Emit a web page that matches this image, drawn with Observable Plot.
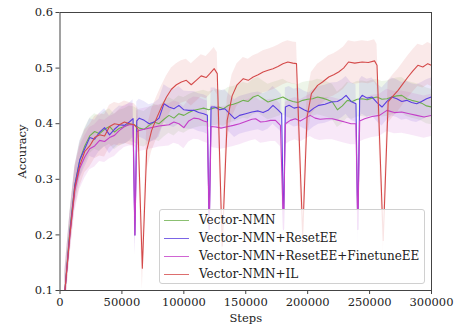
<!DOCTYPE html>
<html><head><meta charset="utf-8">
<script src="https://cdn.jsdelivr.net/npm/d3@7"></script>
<script src="https://cdn.jsdelivr.net/npm/@observablehq/plot@0.6"></script>
<style>
body{margin:0;background:#fff;}
#wrap{position:relative;width:454px;height:326px;font-family:"DejaVu Serif",serif;}
#legend{position:absolute;left:159px;top:209px;width:266px;height:75px;border:1px solid #d0d0d0;border-radius:3px;background:rgba(255,255,255,0.85);font-size:12px;color:#222;box-sizing:border-box;padding-top:1px;}
.row{display:flex;align-items:center;height:18px;white-space:nowrap;}
.sw{width:25px;height:0;border-top:1.3px solid;margin-left:4px;margin-right:10px;}
</style></head>
<body><div id="wrap"><div id="legend"></div></div>
<script>
const seriesNames = ["Vector-NMN","Vector-NMN+ResetEE","Vector-NMN+ResetEE+FinetuneEE","Vector-NMN+IL"];
const seriesColors = ["#6eb04e","#5a3ee0","#c43ec8","#d44a4a"];
const bandHalf = [0.032, 0.034, 0.038, 0.038];
const xTicks = [0,50000,100000,150000,200000,250000,300000];
const yTicks = [0.1,0.2,0.3,0.4,0.5,0.6];

const greenSteps = [4000,8000,12000,16000,20000,24000,28000,32000,36000,40000,44000,48000,52000,56000,60000,64000,68000,72000,76000,80000,84000,88000,92000,96000,100000,104000,108000,112000,116000,120000,124000,128000,132000,136000,140000,144000,148000,152000,156000,160000,164000,168000,172000,176000,180000,184000,188000,192000,196000,200000,204000,208000,212000,216000,220000,224000,228000,232000,236000,240000,244000,248000,252000,256000,260000,264000,268000,272000,276000,280000,284000,288000,292000,296000,300000];
const greenVals = [0.1,0.21,0.29,0.335,0.36,0.378,0.386,0.382,0.39,0.395,0.385,0.392,0.395,0.4,0.398,0.392,0.39,0.397,0.403,0.4,0.408,0.415,0.41,0.418,0.415,0.42,0.424,0.426,0.428,0.425,0.428,0.43,0.427,0.433,0.435,0.438,0.442,0.44,0.448,0.451,0.445,0.439,0.442,0.445,0.448,0.443,0.44,0.438,0.442,0.444,0.445,0.448,0.446,0.443,0.439,0.425,0.432,0.442,0.44,0.444,0.445,0.443,0.446,0.448,0.444,0.445,0.448,0.45,0.451,0.445,0.442,0.44,0.437,0.432,0.43];

const blueSteps = [4000,8000,12000,16000,20000,24000,28000,32000,36000,40000,44000,48000,52000,56000,59000,60500,62000,64000,68000,72000,76000,80000,84000,88000,92000,96000,100000,104000,108000,112000,116000,119000,120500,122000,125000,129000,133000,137000,141000,145000,150000,155000,160000,164000,168000,172000,176000,179000,180500,182000,185000,189000,193000,197000,201000,205000,209000,214000,219000,224000,228000,231000,235000,239000,240500,242000,244000,248000,252000,256000,260000,264000,268000,272000,276000,280000,284000,288000,292000,296000,300000];
const blueVals = [0.1,0.205,0.29,0.335,0.355,0.375,0.372,0.385,0.393,0.38,0.39,0.398,0.397,0.403,0.409,0.2,0.405,0.41,0.406,0.4,0.403,0.41,0.436,0.43,0.427,0.433,0.425,0.424,0.424,0.42,0.418,0.415,0.21,0.43,0.43,0.425,0.427,0.418,0.409,0.415,0.418,0.421,0.423,0.42,0.424,0.433,0.425,0.418,0.21,0.43,0.433,0.428,0.43,0.425,0.421,0.428,0.433,0.435,0.439,0.44,0.445,0.451,0.44,0.436,0.21,0.445,0.451,0.446,0.448,0.438,0.43,0.44,0.448,0.445,0.44,0.442,0.438,0.436,0.44,0.445,0.448];

const magSteps = [4000,8000,12000,16000,20000,24000,28000,32000,36000,40000,44000,48000,52000,56000,59000,60500,62000,64000,68000,72000,76000,80000,84000,88000,92000,96000,100000,104000,108000,112000,116000,119000,120500,122000,126000,130000,134000,140000,145000,150000,155000,158000,162000,166000,170000,174000,178000,180500,182000,186000,190000,194000,198000,202000,206000,210000,215000,220000,225000,230000,235000,239000,240500,242000,246000,252000,258000,264000,270000,276000,282000,288000,294000,300000];
const magVals = [0.1,0.2,0.28,0.32,0.34,0.355,0.36,0.37,0.368,0.375,0.379,0.388,0.395,0.398,0.398,0.2,0.385,0.388,0.39,0.392,0.394,0.396,0.397,0.398,0.403,0.4,0.393,0.405,0.41,0.409,0.405,0.403,0.21,0.395,0.394,0.392,0.394,0.397,0.4,0.404,0.408,0.409,0.403,0.404,0.406,0.406,0.397,0.21,0.4,0.406,0.409,0.405,0.41,0.415,0.41,0.408,0.409,0.409,0.406,0.403,0.4,0.4,0.21,0.405,0.409,0.413,0.415,0.424,0.42,0.421,0.418,0.415,0.412,0.415];

const redSteps = [4000,8000,12000,16000,20000,24000,28000,32000,36000,40000,44000,48000,52000,56000,60000,63000,66500,70000,74000,78000,82000,86000,90000,94000,98000,102000,106000,110000,114000,118000,121000,124500,127000,131000,135000,139000,143000,148000,152000,156000,160000,164000,168000,172000,176000,180000,184000,188000,191000,196000,199500,203000,208000,212000,217000,221000,225000,229000,233000,238000,244000,249000,254000,256000,261000,265000,269000,273000,277000,281000,285000,289000,293000,297000,300000];
const redVals = [0.1,0.2,0.285,0.325,0.35,0.36,0.375,0.38,0.378,0.395,0.4,0.398,0.403,0.4,0.398,0.39,0.14,0.352,0.388,0.41,0.43,0.448,0.462,0.47,0.475,0.478,0.47,0.478,0.486,0.483,0.49,0.499,0.49,0.18,0.406,0.45,0.47,0.481,0.478,0.484,0.488,0.493,0.496,0.499,0.503,0.508,0.511,0.509,0.508,0.2,0.412,0.454,0.469,0.475,0.484,0.488,0.493,0.5,0.511,0.509,0.511,0.51,0.513,0.505,0.19,0.439,0.45,0.46,0.472,0.484,0.495,0.505,0.502,0.508,0.505];

const allSteps = [greenSteps, blueSteps, magSteps, redSteps];
const allVals = [greenVals, blueVals, magVals, redVals];

const data = [];
allSteps.forEach((st, si) => st.forEach((s, i) => data.push({
  series: seriesNames[si], step: s, v: allVals[si][i],
  lo: allVals[si][i] - bandHalf[si], hi: allVals[si][i] + bandHalf[si]
})));

const color = {domain: seriesNames, range: seriesColors};

const chart = Plot.plot({
  width: 454, height: 326,
  marginLeft: 59.5, marginRight: 23, marginTop: 12, marginBottom: 36,
  style: {fontFamily: "DejaVu Serif, serif", fontSize: "11px", color: "#222", background: "transparent"},
  x: {domain: [0, 300000]},
  y: {domain: [0.1, 0.6]},
  color,
  marks: [
    Plot.areaY(data, {x: "step", y1: "lo", y2: "hi", z: "series", fill: "series", fillOpacity: 0.12, clip: true, curve: "linear"}),
    Plot.line(data, {x: "step", y: "v", z: "series", stroke: "series", strokeWidth: 1.1, clip: true}),
    Plot.frame({stroke: "#444", strokeWidth: 1}),
    Plot.axisX({ticks: xTicks, tickFormat: d3.format("d"), tickSize: 4, tickPadding: 3, label: "Steps", labelAnchor: "center", labelArrow: "none", labelOffset: 31, fontSize: 11.5, stroke: "#444"}),
    Plot.axisY({ticks: yTicks, tickFormat: d3.format(".1f"), tickSize: 4, tickPadding: 3, label: "Accuracy", labelAnchor: "center", labelArrow: "none", labelOffset: 42, fontSize: 11.5, stroke: "#444"})
  ]
});
document.getElementById("wrap").prepend(chart);

const leg = document.getElementById("legend");
seriesNames.forEach((n, i) => {
  const r = document.createElement("div"); r.className = "row";
  const s = document.createElement("div"); s.className = "sw"; s.style.borderTopColor = seriesColors[i]; s.style.opacity = 0.8;
  const t = document.createElement("span"); t.textContent = n;
  r.appendChild(s); r.appendChild(t); leg.appendChild(r);
});
</script></body></html>
